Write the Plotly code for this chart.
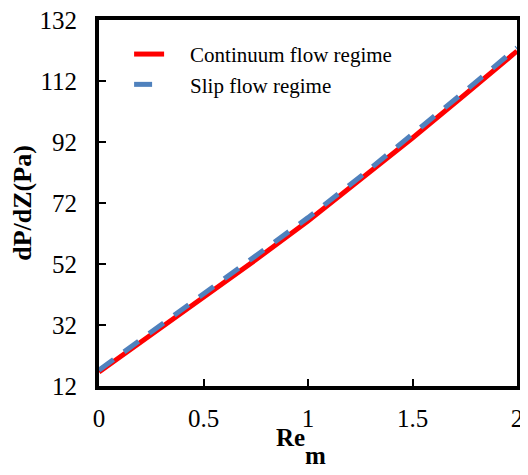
import plotly.graph_objects as go

re_m = [0, 0.25, 0.5, 0.75, 1.0, 1.25, 1.5, 1.75, 2.0]
continuum = [16.6, 28.7, 41.0, 53.4, 66.1, 79.5, 93.3, 107.5, 121.8]
slip = [17.2, 29.6, 42.0, 54.5, 67.2, 80.6, 94.4, 108.6, 122.9]

x_ticks = [0, 0.5, 1, 1.5, 2]
x_tick_labels = ["0", "0.5", "1", "1.5", "2"]
y_ticks = [12, 32, 52, 72, 92, 112, 132]

font_family = "Liberation Serif, Times New Roman, serif"
pad = "\u00a0" * 4

fig = go.Figure()
fig.add_trace(go.Scatter(x=re_m, y=continuum, mode="lines", name=pad + "Continuum flow regime",
                         line=dict(color="#FF0000", width=5)))
fig.add_trace(go.Scatter(x=re_m, y=slip, mode="lines", name=pad + "Slip flow regime",
                         line=dict(color="#4F81BD", width=5, dash="18px,13px")))

fig.update_layout(
    width=520, height=467,
    margin=dict(l=91, r=11, t=12, b=89, autoexpand=False),
    paper_bgcolor="white", plot_bgcolor="white",
    font=dict(family=font_family, color="black", size=20),
    showlegend=True,
    legend=dict(x=0.072, y=0.962, xanchor="left", yanchor="top",
                bgcolor="rgba(0,0,0,0)", font=dict(size=21, family=font_family),
                itemwidth=30, tracegroupgap=0),
    annotations=[
        dict(text="<b>Re</b>", xref="paper", yref="paper", x=0.459, y=-0.142,
             xanchor="center", yanchor="middle", showarrow=False,
             font=dict(size=25, family=font_family)),
        dict(text="<b>m</b>", xref="paper", yref="paper", x=0.519, y=-0.191,
             xanchor="center", yanchor="middle", showarrow=False,
             font=dict(size=25, family=font_family)),
    ],
)
fig.update_xaxes(
    range=[0, 2], tickvals=x_ticks, ticktext=x_tick_labels,
    showgrid=False, zeroline=False, automargin=False,
    showline=True, linecolor="black", linewidth=4, mirror=True,
    ticks="inside", ticklen=7, tickwidth=1.5, tickcolor="black",
    tickfont=dict(size=25, family=font_family), ticklabelstandoff=7,
    ticklabeloverflow="allow",
)
fig.update_yaxes(
    range=[12, 132], tickvals=y_ticks,
    showgrid=False, zeroline=False, automargin=False,
    showline=True, linecolor="black", linewidth=4, mirror=True,
    ticks="inside", ticklen=7, tickwidth=1.5, tickcolor="black",
    tickfont=dict(size=25, family=font_family), ticklabelstandoff=13,
    ticklabeloverflow="allow",
    title=dict(text="<b>dP/dZ(Pa)</b>", font=dict(size=26, family=font_family), standoff=2),
)

fig.write_html("out.html")
